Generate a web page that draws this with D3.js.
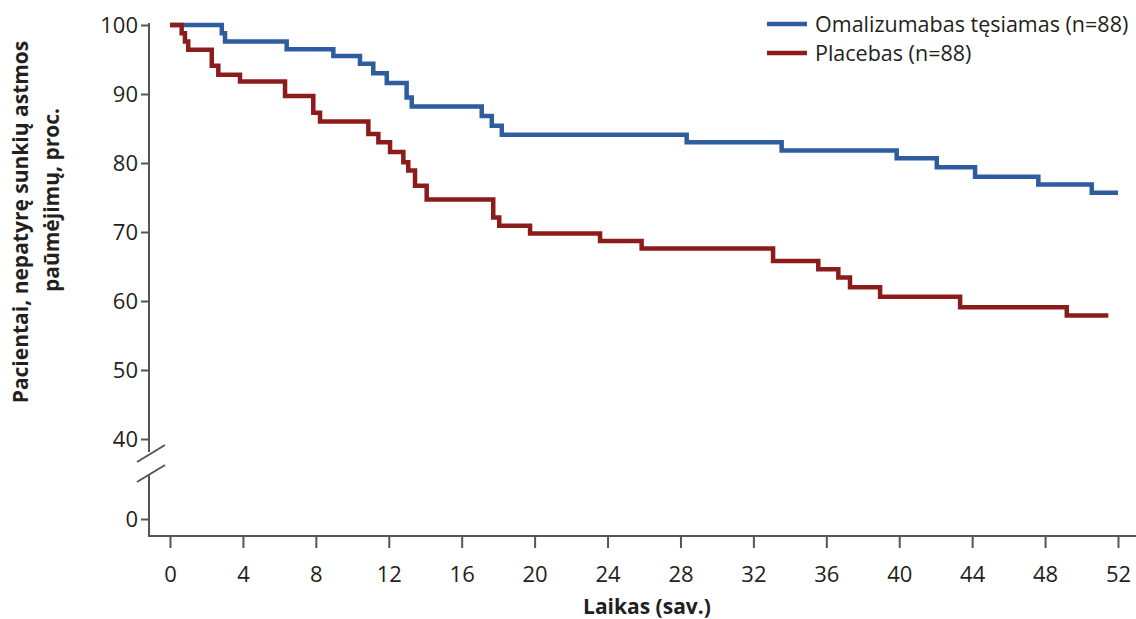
<!DOCTYPE html>
<html>
<head>
<meta charset="utf-8">
<script src="https://cdn.jsdelivr.net/npm/d3@7"></script>
<style>
  body { margin: 0; background: #fff; }
  svg { display: block; font-family: "Open Sans", "Noto Sans", sans-serif; }
</style>
</head>
<body>
<svg></svg>
<script>
// Kaplan-Meier steps: week where the step happens, value after it
const omaWeeks  = [0, 2.84, 3.02, 6.40, 8.96, 10.42, 11.15, 11.89, 12.98, 13.26, 17.10, 17.65, 18.20, 28.34, 33.55, 39.86, 42.06, 44.16, 47.63, 50.56, 52.0];
const omaValues = [100, 98.8, 97.6, 96.5, 95.5, 94.4, 93.0, 91.6, 89.5, 88.2, 86.8, 85.4, 84.1, 83.0, 81.8, 80.7, 79.4, 78.0, 76.9, 75.7, 75.7];

const plaWeeks  = [0, 0.64, 0.82, 1.0, 2.29, 2.65, 3.84, 6.31, 7.86, 8.23, 10.88, 11.43, 12.07, 12.80, 13.07, 13.44, 14.08, 17.73, 18.06, 19.75, 23.59, 25.87, 33.08, 35.56, 36.66, 37.30, 38.95, 43.34, 49.19, 51.47];
const plaValues = [100, 98.8, 97.6, 96.4, 94.1, 92.8, 91.8, 89.7, 87.3, 86.0, 84.2, 83.0, 81.6, 80.1, 78.9, 76.7, 74.7, 72.1, 70.9, 69.8, 68.7, 67.6, 65.8, 64.6, 63.4, 62.0, 60.6, 59.1, 57.9, 57.9];

const xTicks = d3.range(0, 53, 4);
const yTicks = [0, 40, 50, 60, 70, 80, 90, 100];

const series = [
  { name: "Omalizumabas tęsiamas (n=88)", color: "#2d5c9f", weeks: omaWeeks, values: omaValues },
  { name: "Placebas (n=88)",               color: "#8c1c1c", weeks: plaWeeks, values: plaValues }
];

const width = 1136, height = 619;
const axisColor = "#555";
const textColor = "#231f20";

const svg = d3.select("svg")
  .attr("width", width)
  .attr("height", height);

const x = d3.scaleLinear().domain([0, 52]).range([170, 1118]);
// broken axis: 0..40 squeezed, 40..100 linear
const y = d3.scaleLinear().domain([0, 40, 100]).range([519, 439, 25]);

const axisX0 = 149, axisY = 536;

// y axis
const yAxisG = svg.append("g")
  .attr("transform", `translate(${axisX0},0)`)
  .call(d3.axisLeft(y).tickValues(yTicks).tickSize(8).tickPadding(3));
yAxisG.select(".domain").remove();
yAxisG.selectAll(".tick line").attr("stroke", axisColor).attr("stroke-width", 2);
yAxisG.selectAll(".tick text")
  .attr("fill", textColor)
  .attr("font-size", 22)
  .attr("font-family", "Open Sans");

// y axis line in two pieces with the break marks
svg.append("line")
  .attr("x1", axisX0).attr("x2", axisX0)
  .attr("y1", y(100) - 2).attr("y2", 452)
  .attr("stroke", axisColor).attr("stroke-width", 2);
svg.append("line")
  .attr("x1", axisX0).attr("x2", axisX0)
  .attr("y1", 474).attr("y2", axisY + 1)
  .attr("stroke", axisColor).attr("stroke-width", 2);
[[462, 445], [482, 465]].forEach(([a, b]) => {
  svg.append("line")
    .attr("x1", 137).attr("y1", a)
    .attr("x2", 165).attr("y2", b)
    .attr("stroke", axisColor).attr("stroke-width", 2);
});

// x axis
const xAxisG = svg.append("g")
  .attr("transform", `translate(0,${axisY})`)
  .call(d3.axisBottom(x).tickValues(xTicks).tickSize(12).tickPadding(18).tickSizeOuter(0));
xAxisG.select(".domain").remove();
xAxisG.append("line")
  .attr("x1", axisX0 - 1).attr("x2", width)
  .attr("stroke", axisColor).attr("stroke-width", 2);
xAxisG.selectAll(".tick line").attr("stroke", axisColor).attr("stroke-width", 2);
xAxisG.selectAll(".tick text")
  .attr("fill", textColor)
  .attr("font-size", 22)
  .attr("font-family", "Open Sans");

// axis titles
svg.append("text")
  .attr("x", x(26) + 3).attr("y", 614)
  .attr("text-anchor", "middle")
  .attr("font-size", 21).attr("font-weight", "bold")
  .attr("fill", textColor)
  .text("Laikas (sav.)");

svg.append("text")
  .attr("transform", "translate(28,222) rotate(-90)")
  .attr("text-anchor", "middle")
  .attr("font-size", 21).attr("font-weight", "bold")
  .attr("fill", textColor)
  .text("Pacientai, nepatyrę sunkių astmos");
svg.append("text")
  .attr("transform", "translate(59,200) rotate(-90)")
  .attr("text-anchor", "middle")
  .attr("font-size", 21).attr("font-weight", "bold")
  .attr("fill", textColor)
  .text("paūmėjimų, proc.");

// curves
const line = d3.line()
  .x(d => x(d[0]))
  .y(d => y(d[1]))
  .curve(d3.curveStepAfter);

series.forEach(s => {
  const pts = s.weeks.map((w, i) => [w, s.values[i]]);
  svg.append("path")
    .attr("d", line(pts))
    .attr("fill", "none")
    .attr("stroke", s.color)
    .attr("stroke-width", 4.5)
    .attr("stroke-linejoin", "miter");
});

// legend
const legend = svg.append("g").attr("transform", "translate(767,24)");
series.forEach((s, i) => {
  const g = legend.append("g").attr("transform", `translate(0,${i * 29})`);
  g.append("line")
    .attr("x1", 0).attr("x2", 40)
    .attr("stroke", s.color).attr("stroke-width", 4.5);
  g.append("text")
    .attr("x", 48).attr("y", 7.5)
    .attr("font-size", 21.5)
    .attr("fill", textColor)
    .text(s.name);
});
</script>
</body>
</html>
